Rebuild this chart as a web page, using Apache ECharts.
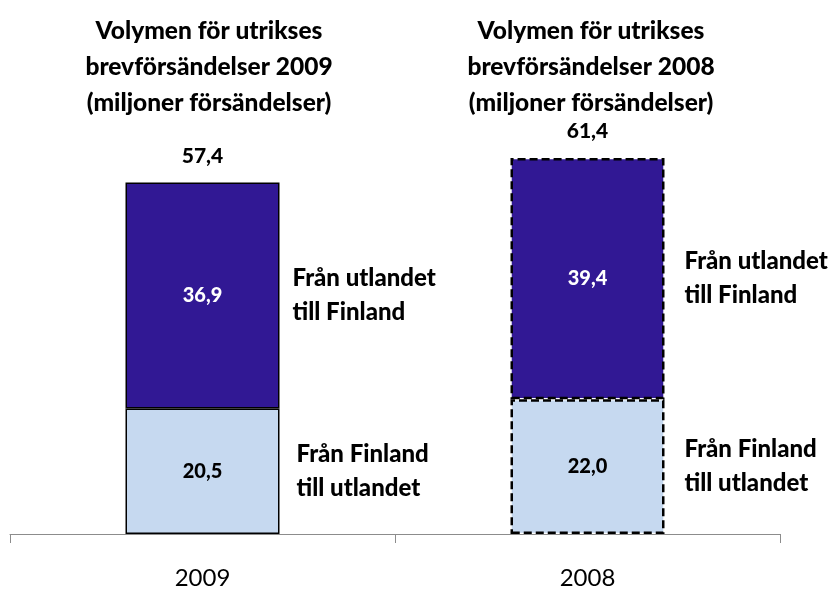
<!DOCTYPE html>
<html><head><meta charset="utf-8">
<script src="https://cdn.jsdelivr.net/npm/echarts@6/dist/echarts.min.js"></script>
<style>html,body{margin:0;padding:0;background:#fff}#c{width:830px;height:590px}</style>
</head><body><div id="c"></div>
<script>
const categories = ['2009', '2008'];
const fromFinland = [20.5, 22.0];
const toFinland = [36.9, 39.4];
const totals = [57.4, 61.4];
const titles = [
  'Volymen för utrikses\nbrevförsändelser 2009\n(miljoner försändelser)',
  'Volymen för utrikses\nbrevförsändelser 2008\n(miljoner försändelser)'
];
const bottomName = 'Från Finland\ntill utlandet';
const topName = 'Från utlandet\ntill Finland';

const FONT = 'Lato, "Open Sans", sans-serif';
const W = 900;
const DARK = '#311894';
const LIGHT = '#c6d9f0';
const borderTypes = [ 'solid', [8, 4] ];
const sideDistBottom = [17, 20];
const sideDistTop = [13, 20];
const fmt = v => Number(v).toFixed(1).replace('.', ',');

function visibleData(vals) {
  return vals.map((v, i) => ({
    value: v,
    itemStyle: { borderType: borderTypes[i], borderWidth: i === 0 ? 1.5 : 2.5 }
  }));
}
function overlayData(vals, dists, name) {
  return vals.map((v, i) => ({
    value: v,
    label: { distance: dists[i], formatter: name }
  }));
}
const sideLabel = {
  show: true, position: 'right', color: '#000', fontFamily: FONT,
  fontWeight: W, fontSize: 24, lineHeight: 34, align: 'left'
};
const overlayCommon = {
  type: 'bar', barWidth: '40%', barGap: '-100%', silent: true,
  itemStyle: { color: 'rgba(0,0,0,0)', borderWidth: 0 },
  emphasis: { disabled: true }, z: 1
};

const chart = echarts.init(document.getElementById('c'), null, { renderer: 'canvas' });
chart.setOption({
  animation: false,
  backgroundColor: '#fff',
  title: titles.map((t, i) => ({
    text: t,
    left: i === 0 ? 204 : 586,
    top: 8,
    textAlign: 'center',
    textStyle: { fontFamily: FONT, fontWeight: W, fontSize: 24.5, lineHeight: 36, color: '#000' }
  })),
  grid: { left: 10, right: 50, top: 44, bottom: 55 },
  xAxis: {
    type: 'category', data: categories,
    axisLine: { lineStyle: { color: '#8c8c8c', width: 1 } },
    axisTick: { show: true, length: 9, lineStyle: { color: '#8c8c8c' } },
    axisLabel: { color: '#000', fontFamily: FONT, fontSize: 24, margin: 32 }
  },
  yAxis: { type: 'value', min: 0, max: 80, show: false, splitLine: { show: false } },
  series: [
    {
      name: bottomName, type: 'bar', stack: 'a', barWidth: '40%', barGap: '-100%',
      data: visibleData(fromFinland),
      itemStyle: { color: LIGHT, borderColor: '#000' },
      label: { show: true, position: 'inside', color: '#000', fontFamily: FONT, fontWeight: W, fontSize: 20, formatter: p => fmt(p.value) },
      z: 2
    },
    {
      name: topName, type: 'bar', stack: 'a', barWidth: '40%', barGap: '-100%',
      data: visibleData(toFinland),
      itemStyle: { color: DARK, borderColor: '#000' },
      label: { show: true, position: 'inside', color: '#fff', fontFamily: FONT, fontWeight: W, fontSize: 20, formatter: p => fmt(p.value) },
      z: 2
    },
    Object.assign({}, overlayCommon, {
      stack: 'b', data: overlayData(fromFinland, sideDistBottom, bottomName), label: sideLabel
    }),
    Object.assign({}, overlayCommon, {
      stack: 'b', data: overlayData(toFinland, sideDistTop, topName), label: sideLabel
    }),
    Object.assign({}, overlayCommon, {
      data: totals,
      label: { show: true, position: 'top', distance: 16, color: '#000', fontFamily: FONT, fontWeight: W, fontSize: 21, formatter: p => fmt(p.value) }
    })
  ]
});
</script>
</body></html>
